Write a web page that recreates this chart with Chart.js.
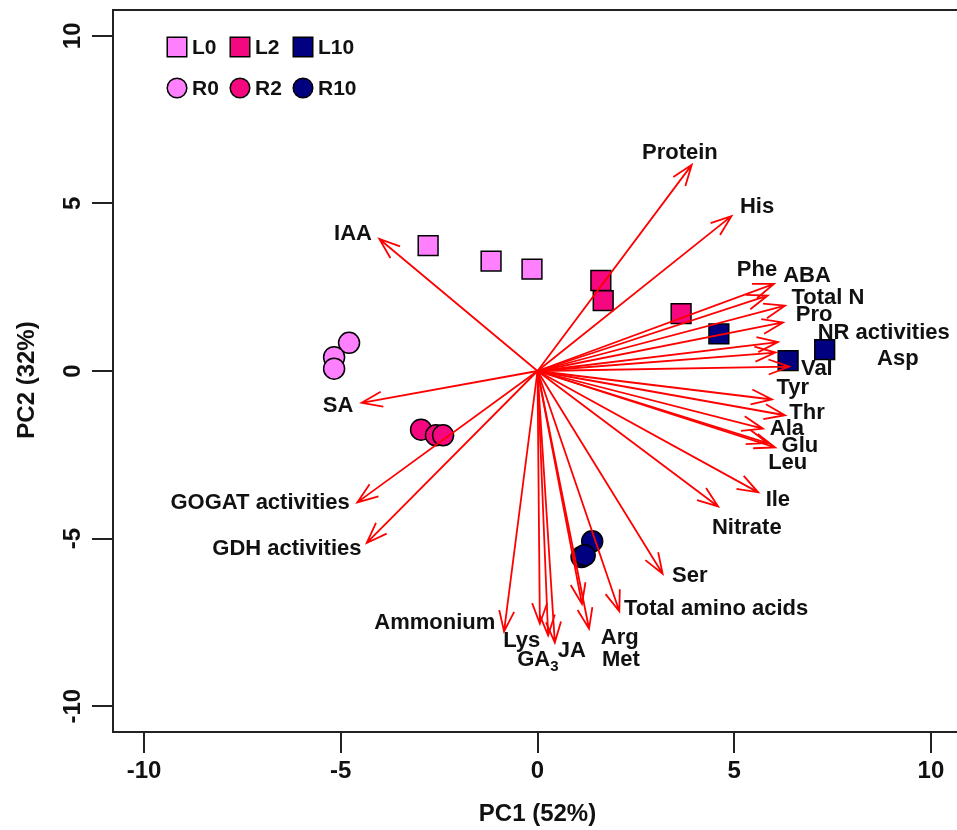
<!DOCTYPE html>
<html>
<head>
<meta charset="utf-8">
<script src="https://cdn.jsdelivr.net/npm/chart.js@4.4.0/dist/chart.umd.min.js"></script>
<style>
  html, body { margin: 0; padding: 0; background: #fff; overflow: hidden; }
</style>
</head>
<body>
<canvas id="pca" width="965" height="830"></canvas>
<script>
// ---------- data (PC1, PC2 scores) ----------
const L0  = [[-2.78, 3.74], [-1.18, 3.28], [-0.14, 3.04]];
const L2  = [[1.61, 2.70], [1.67, 2.10], [3.65, 1.71]];
const L10 = [[4.61, 1.11], [6.37, 0.31], [7.30, 0.64]];
const R0  = [[-4.79, 0.84], [-5.17, 0.41], [-5.17, 0.07]];
const R2  = [[-2.96, -1.75], [-2.58, -1.92], [-2.40, -1.92]];
const R10 = [[1.39, -5.08], [1.12, -5.55], [1.20, -5.50]];

// ---------- loadings (arrow tips) ----------
const varNames = ["Protein", "His", "Phe", "ABA", "Total N", "Pro", "NR activities", "Asp", "Val",
  "Tyr", "Thr", "Ala", "Glu", "Leu", "Ile", "Nitrate", "Ser", "Total amino acids", "Arg", "Met",
  "JA", "GA3", "Lys", "Ammonium", "IAA", "SA", "GOGAT activities", "GDH activities"];
const loadX = [3.92, 4.93, 6.01, 5.85, 6.29, 6.24, 6.11, 6.05, 6.40,
  5.96, 6.29, 5.73, 6.04, 5.85, 5.61, 4.59, 3.18, 2.08, 1.13, 1.31,
  0.44, 0.27, 0.06, -0.85, -4.02, -4.47, -4.58, -4.34];
const loadY = [6.15, 4.62, 2.60, 2.25, 1.95, 1.45, 0.86, 0.55, 0.13,
  -0.85, -1.32, -1.72, -2.28, -2.15, -3.62, -4.04, -6.05, -7.17, -6.95, -7.69,
  -8.10, -7.89, -7.54, -7.77, 3.94, -0.95, -3.92, -5.13];
// label anchor (text centre) in data units
const labelX = [3.62, 5.58, 5.58, 6.85, 7.38, 7.03, 8.80, 9.16, 7.10,
  6.49, 6.85, 6.34, 6.67, 6.36, 6.11, 5.32, 3.87, 4.54, 2.09, 2.12,
  0.87, 0.01, -0.40, -2.61, -4.69, -5.07, -7.05, -6.37];
const labelY = [6.52, 4.88, 3.01, 2.85, 2.19, 1.66, 1.15, 0.37, 0.07,
  -0.52, -1.24, -1.72, -2.23, -2.73, -3.86, -4.67, -6.10, -7.11, -7.95, -8.61,
  -8.34, -8.61, -8.04, -7.53, 4.10, -1.03, -3.95, -5.30];

const tickVals = [-10, -5, 0, 5, 10];
const xTitle = "PC1 (52%)";
const yTitle = "PC2 (32%)";

// ---------- styles ----------
const PINK = "#FF80FF", ROSE = "#F5077F", NAVY = "#000080";
const FONT = '"Liberation Sans", Arial, sans-serif';
const AXIS = "#222";

const series = [
  { label: "L0", pts: L0, color: PINK, style: "rect" },
  { label: "L2", pts: L2, color: ROSE, style: "rect" },
  { label: "L10", pts: L10, color: NAVY, style: "rect" },
  { label: "R0", pts: R0, color: PINK, style: "circle" },
  { label: "R2", pts: R2, color: ROSE, style: "circle" },
  { label: "R10", pts: R10, color: NAVY, style: "circle" },
];

const datasets = series.map((s) => ({
  label: s.label,
  data: s.pts.map(([x, y]) => ({ x, y })),
  pointStyle: s.style,
  pointRadius: s.style === "rect" ? 14 : 10.5,
  backgroundColor: s.color,
  borderColor: "#000",
  borderWidth: 1.5,
}));

function arrow(ctx, x0, y0, x1, y1) {
  const ang = Math.atan2(y1 - y0, x1 - x0);
  const len = 22, spread = 20 * Math.PI / 180;
  ctx.beginPath();
  ctx.moveTo(x0, y0); ctx.lineTo(x1, y1);
  ctx.moveTo(x1 - len * Math.cos(ang - spread), y1 - len * Math.sin(ang - spread));
  ctx.lineTo(x1, y1);
  ctx.lineTo(x1 - len * Math.cos(ang + spread), y1 - len * Math.sin(ang + spread));
  ctx.stroke();
}

const biplot = {
  id: "biplot",
  afterDatasetsDraw(chart) {
    const { ctx, chartArea: a, scales: { x, y } } = chart;
    ctx.save();

    // box
    ctx.strokeStyle = AXIS; ctx.lineWidth = 2;
    ctx.strokeRect(a.left, a.top, a.right - a.left, a.bottom - a.top);

    // arrows
    ctx.strokeStyle = "#FF0000"; ctx.lineWidth = 1.8; ctx.lineJoin = "miter";
    const ox = x.getPixelForValue(0), oy = y.getPixelForValue(0);
    varNames.forEach((n, i) => {
      arrow(ctx, ox, oy, x.getPixelForValue(loadX[i]), y.getPixelForValue(loadY[i]));
    });

    // variable labels
    ctx.fillStyle = "#111";
    ctx.textBaseline = "middle";
    varNames.forEach((n, i) => {
      const px = x.getPixelForValue(labelX[i]), py = y.getPixelForValue(labelY[i]);
      ctx.font = `bold 22px ${FONT}`;
      if (n === "GA3") {
        const w1 = ctx.measureText("GA").width;
        ctx.font = `bold 15px ${FONT}`;
        const w2 = ctx.measureText("3").width;
        const sx = px - (w1 + w2) / 2;
        ctx.textAlign = "left";
        ctx.fillText("3", sx + w1, py + 7);
        ctx.font = `bold 22px ${FONT}`;
        ctx.fillText("GA", sx, py);
      } else {
        ctx.textAlign = "center";
        ctx.fillText(n, px, py);
      }
    });

    // legend
    const legX = [177, 240, 303], legY = [47, 88];
    ctx.font = `bold 21px ${FONT}`;
    ctx.textAlign = "left";
    series.forEach((s, i) => {
      const cx = legX[i % 3], cy = legY[Math.floor(i / 3)];
      ctx.fillStyle = s.color; ctx.strokeStyle = "#000"; ctx.lineWidth = 1.5;
      Chart.helpers.drawPoint(ctx, {
        pointStyle: s.style, radius: s.style === "rect" ? 13.8 : 9.8, rotation: 0, borderWidth: 1.5
      }, cx, cy);
      ctx.fillStyle = "#111";
      ctx.fillText(s.label, cx + 15, cy + 1);
    });

    // tick labels (y rotated, like base R)
    ctx.font = `bold 24px ${FONT}`;
    ctx.textAlign = "center";
    tickVals.forEach((v) => {
      ctx.fillText(String(v), x.getPixelForValue(v), a.bottom + 39);
      ctx.save();
      ctx.translate(a.left - 40, y.getPixelForValue(v));
      ctx.rotate(-Math.PI / 2);
      ctx.fillText(String(v), 0, 0);
      ctx.restore();
    });

    // axis titles
    ctx.fillText(xTitle, x.getPixelForValue(0), 814);
    ctx.save();
    ctx.translate(27, 380);
    ctx.rotate(-Math.PI / 2);
    ctx.fillText(yTitle, 0, 0);
    ctx.restore();

    ctx.restore();
  }
};

const setTicks = (s) => { s.ticks = tickVals.map((v) => ({ value: v })); };

new Chart(document.getElementById("pca").getContext("2d"), {
  type: "scatter",
  data: { datasets },
  options: {
    responsive: false,
    animation: false,
    layout: { autoPadding: false, padding: { top: 10, right: 3, left: 0, bottom: 0 } },
    plugins: { legend: { display: false }, tooltip: { enabled: false } },
    scales: {
      x: {
        type: "linear", min: -10.79, max: 10.79,
        afterBuildTicks: setTicks,
        afterFit: (s) => { s.height = 98; },
        grid: { drawOnChartArea: false, drawTicks: true, tickLength: 21, color: AXIS, lineWidth: 2 },
        border: { display: true, color: AXIS, width: 2 },
        ticks: { display: false }
      },
      y: {
        type: "linear", min: -10.77, max: 10.77,
        afterBuildTicks: setTicks,
        afterFit: (s) => { s.width = 113; },
        grid: { drawOnChartArea: false, drawTicks: true, tickLength: 21, color: AXIS, lineWidth: 2 },
        border: { display: true, color: AXIS, width: 2 },
        ticks: { display: false }
      }
    }
  },
  plugins: [biplot]
});
</script>
</body>
</html>
